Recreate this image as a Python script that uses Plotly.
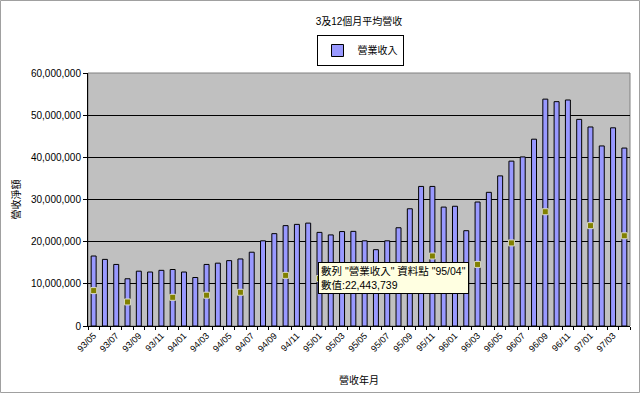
import plotly.graph_objects as go

months = [
    "93/05", "93/06", "93/07", "93/08", "93/09", "93/10", "93/11", "93/12",
    "94/01", "94/02", "94/03", "94/04", "94/05", "94/06", "94/07", "94/08",
    "94/09", "94/10", "94/11", "94/12", "95/01", "95/02", "95/03", "95/04",
    "95/05", "95/06", "95/07", "95/08", "95/09", "95/10", "95/11", "95/12",
    "96/01", "96/02", "96/03", "96/04", "96/05", "96/06", "96/07", "96/08",
    "96/09", "96/10", "96/11", "96/12", "97/01", "97/02", "97/03", "97/04",
]

revenue = [
    16600000, 15800000, 14600000, 11200000, 13000000, 12800000, 13200000, 13400000,
    12800000, 11500000, 14600000, 14900000, 15500000, 15900000, 17500000, 20200000,
    21900000, 23800000, 24100000, 24400000, 22200000, 21600000, 22400000, 22443739,
    20200000, 18100000, 20200000, 23300000, 27800000, 33100000, 33100000, 28200000,
    28400000, 22600000, 29400000, 31700000, 35600000, 39100000, 40100000, 44300000,
    53800000, 53200000, 53600000, 49000000, 47200000, 42700000, 47000000, 42200000,
]

avg_months = ["93/05", "93/08", "93/12", "94/03", "94/06", "94/10", "95/01",
              "95/11", "96/03", "96/06", "96/09", "97/01", "97/04"]
avg_values = [8400000, 5700000, 6800000, 7300000, 8000000, 12000000, 11250000,
              16600000, 14600000, 19700000, 27100000, 23800000, 21400000]

tick_labels = [m if i % 2 == 0 else "" for i, m in enumerate(months)]

title_text = "3及12個月平均營收"
series_name = "營業收入"
y_title = "營收淨額"
x_title = "營收年月"
tip_point = "95/04"

FONT = "Liberation Sans, Arial, Noto Sans CJK TC, sans-serif"

fig = go.Figure()
fig.add_trace(go.Bar(
    x=months, y=revenue, name=series_name,
    marker=dict(color="#9999ff", line=dict(color="#000000", width=1)),
))
fig.add_trace(go.Scatter(
    x=avg_months, y=avg_values, mode="markers", showlegend=False,
    marker=dict(symbol="square", size=6, color="#808000",
                line=dict(color="#d8d8c0", width=1)),
))

tip_val = revenue[months.index(tip_point)]
tip_text = f'數列 "{series_name}" 資料點 "{tip_point}"<br>數值:{tip_val:,}'

fig.update_layout(
    width=640, height=393,
    margin=dict(l=88, r=10, t=73, b=67, autoexpand=False),
    paper_bgcolor="#ffffff",
    plot_bgcolor="#c0c0c0",
    font=dict(family=FONT, size=10, color="#000000"),
    title=dict(text=title_text, x=0.5, xref="paper", y=1 - 21 / 393,
               yref="container", xanchor="center", yanchor="middle",
               font=dict(size=10, family=FONT)),
    bargap=0.56,
    showlegend=True,
    legend=dict(x=(360 - 88) / 542, y=1 + (73 - 35) / 253, xanchor="center",
                yanchor="top", bgcolor="#ffffff", bordercolor="#000000",
                borderwidth=1, font=dict(size=10, family=FONT),
                itemwidth=30, tracegroupgap=0),
    xaxis=dict(
        type="category", tickmode="array", tickvals=months, ticktext=tick_labels,
        range=[-0.5, len(months) - 0.5], autorange=False,
        tickangle=-45, ticks="outside", ticklen=3, tickson="boundaries",
        tickcolor="#000000", showgrid=False, showline=True, linecolor="#000000",
        linewidth=1, tickfont=dict(size=9, family=FONT), automargin=False,
        title=dict(text=x_title, standoff=24, font=dict(size=10, family=FONT)),
    ),
    yaxis=dict(
        range=[0, 60000000], dtick=10000000, tickformat=",d",
        ticks="outside", ticklen=4, tickcolor="#000000",
        showgrid=True, gridcolor="#000000", gridwidth=1,
        showline=True, linecolor="#000000", linewidth=1, zeroline=False,
        tickfont=dict(size=10, family=FONT), automargin=False,
        title=dict(text=y_title, standoff=8, font=dict(size=10, family=FONT)),
    ),
    shapes=[
        dict(type="rect", xref="paper", yref="paper", x0=0, x1=1, y0=0, y1=1,
             line=dict(color="#808080", width=1), layer="below"),
        dict(type="rect", xref="paper", yref="paper",
             x0=-87.5 / 542, x1=(639.5 - 88) / 542,
             y0=-(66.5) / 253, y1=1 + 72.5 / 253,
             line=dict(color="#a0a0a0", width=1)),
    ],
    annotations=[
        dict(text=tip_text, xref="paper", yref="paper",
             x=(318 - 88) / 542, y=(326 - 262) / 253, xanchor="left", yanchor="top",
             showarrow=False, align="left", bgcolor="#ffffe1",
             bordercolor="#000000", borderwidth=1, borderpad=2,
             font=dict(size=10.5, family="Liberation Sans, Noto Sans CJK TC, sans-serif")),
    ],
)

fig.write_html("out.html", config={"displayModeBar": False},
               post_script="document.body.style.margin='0';")
